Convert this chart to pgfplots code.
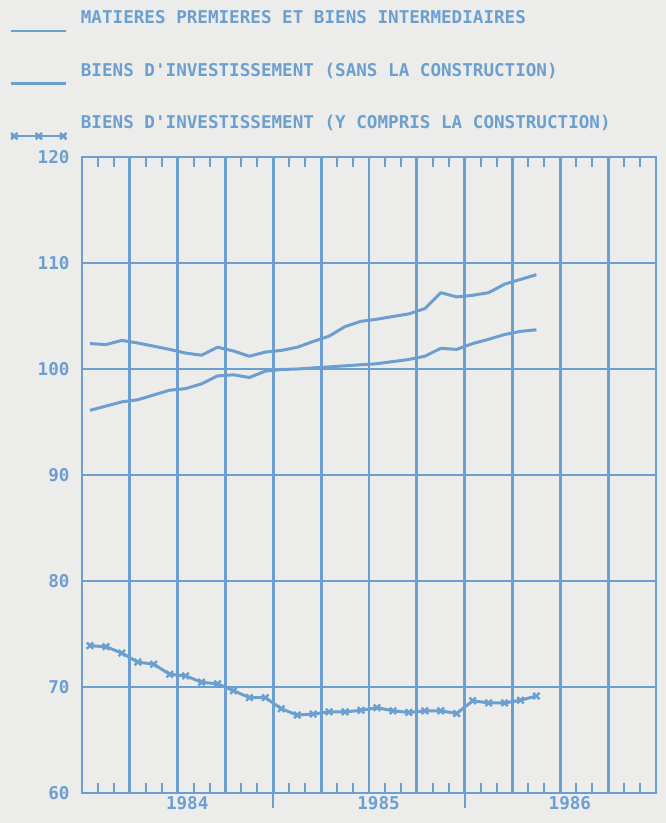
\documentclass[border=0pt]{standalone}
\usepackage{pgfplots}
\pgfplotsset{compat=1.18}
\usepackage{pgfplotstable}
\usepackage{fontspec}
\newfontfamily\plotfont{DejaVu Sans Mono Bold}
\newcommand\pf{\plotfont\fontsize{17.6pt}{20pt}\selectfont}
\definecolor{pblue}{RGB}{108,159,208}
\definecolor{bgcol}{RGB}{236,236,234}
\pgfplotstableread{
x s1 s2 s3
0.5 102.4 96.1 73.9
1.5 102.3 96.5 73.8
2.5 102.7 96.9 73.2
3.5 102.45 97.1 72.35
4.5 102.15 97.55 72.15
5.5 101.85 98.0 71.2
6.5 101.5 98.15 71.05
7.5 101.3 98.6 70.45
8.5 102.05 99.35 70.3
9.5 101.7 99.45 69.65
10.5 101.2 99.2 69.0
11.5 101.6 99.8 69.0
12.5 101.75 99.95 67.95
13.5 102.05 100.0 67.35
14.5 102.6 100.1 67.45
15.5 103.1 100.2 67.65
16.5 104.0 100.3 67.65
17.5 104.5 100.4 67.8
18.5 104.7 100.5 68.05
19.5 104.95 100.7 67.75
20.5 105.2 100.9 67.6
21.5 105.7 101.2 67.75
22.5 107.2 101.95 67.75
23.5 106.8 101.85 67.5
24.5 106.95 102.4 68.7
25.5 107.2 102.8 68.5
26.5 108.0 103.25 68.5
27.5 108.45 103.55 68.75
28.5 108.9 103.7 69.15
}\data
\begin{document}
\begin{tikzpicture}
\path[use as bounding box, fill=bgcol] (-82pt,-30pt) rectangle (584pt,793pt);
\begin{axis}[
  at={(0pt,0pt)}, anchor=south west,
  scale only axis, width=574pt, height=636pt,
  xmin=0, xmax=36, ymin=60, ymax=120,
  xtick={3,6,...,33}, xticklabels={},
  minor xtick={1,2,4,5,7,8,10,11,13,14,16,17,19,20,22,23,25,26,28,29,31,32,34,35},
  ytick={60,70,...,120},
  xmajorgrids, ymajorgrids,
  major tick length=0pt, minor tick length=10pt,
  tick align=inside,
  xtick pos=both, ytick pos=left,
  xticklabel pos=lower,
  extra x ticks={6.6,18.6,30.6},
  extra x tick labels={1984,1985,1986},
  extra x tick style={grid=none, major tick length=0pt},
  axis line style={pblue, line width=2.8pt},
  tick style={pblue, line width=2pt},
  major grid style={pblue, line width=2.8pt},
  /pgf/number format/assume math mode=true,
  ticklabel style={font=\pf, text=pblue},
  yticklabel style={xshift=-9pt},
  clip=false,
  legend style={draw=none, fill=none, at={(axis description cs:0,1)}, anchor=south west,
    xshift=-72pt, yshift=17.5pt, inner sep=0pt, row sep=31pt, column sep=13.5pt,
    font=\pf, text=pblue, nodes={inner sep=0pt, text height=13pt, text depth=0pt}},
  legend cell align=left,
  legend image code/.code={
    \draw[#1, mark=none, line width=2.2pt] (0pt,-14pt) -- (55pt,-14pt);
    \draw[#1, line width=2.2pt] plot coordinates {(3pt,-14pt) (27.5pt,-14pt) (52pt,-14pt)};
  },
]
\addplot[pblue, line width=3pt, line join=round] table[x=x, y=s1] {\data};
\addlegendentry{MATIERES PREMIERES ET BIENS INTERMEDIAIRES}
\addplot[pblue, line width=3pt, line join=round] table[x=x, y=s2] {\data};
\addlegendentry{BIENS D'INVESTISSEMENT (SANS LA CONSTRUCTION)}
\addplot[pblue, line width=3pt, line join=round, mark=x, mark size=4.5pt, mark options={solid, line width=2.4pt}] table[x=x, y=s3] {\data};
\addlegendentry{BIENS D'INVESTISSEMENT (Y COMPRIS LA CONSTRUCTION)}
\draw[pblue, line width=2pt] (axis cs:12,60) -- ++(0pt,-15pt);
\draw[pblue, line width=2pt] (axis cs:24,60) -- ++(0pt,-15pt);
\end{axis}
\end{tikzpicture}
\end{document}
